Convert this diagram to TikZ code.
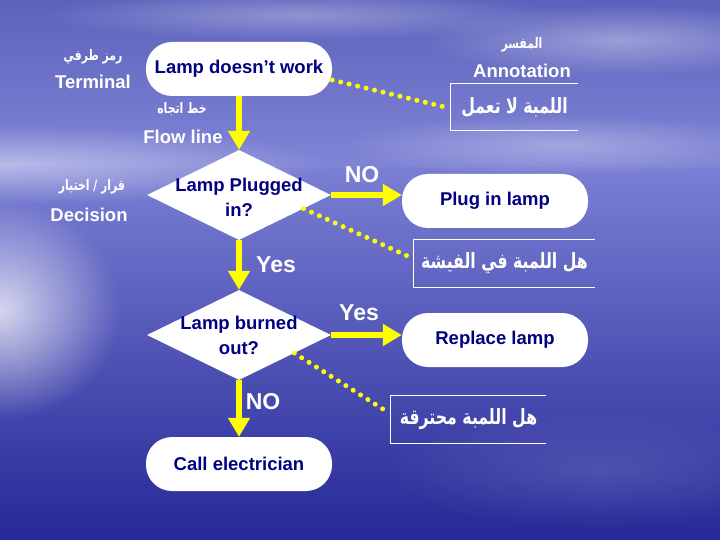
\documentclass[tikz,border=0pt]{standalone}
\usepackage{fontspec}
\setmainfont{Liberation Sans}
\newfontfamily\arabicfont[Script=Arabic,FakeStretch=0.75]{DejaVu Sans}
\TeXXeTstate=1
\usetikzlibrary{shapes.geometric,arrows.meta,calc,fadings}
\definecolor{navytext}{RGB}{0,0,128}
\definecolor{flowyellow}{RGB}{255,255,0}
\definecolor{skytop}{RGB}{92,98,188}
\definecolor{skylow}{RGB}{128,133,214}
\definecolor{seatop}{RGB}{122,127,212}
\definecolor{seabot}{RGB}{38,40,150}
\tikzfading[name=softglow, inner color=transparent!0, outer color=transparent!100]
\begin{document}
\begin{tikzpicture}[x=1pt,y=-1pt,
  term/.style={fill=white, rounded corners=26pt, minimum width=186pt, minimum height=54pt,
    inner sep=0pt, text=navytext, font=\fontsize{18.5}{22}\selectfont\bfseries},
  dia/.style={shape=diamond, fill=white, minimum width=184pt, minimum height=90pt,
    inner sep=0pt, text=navytext, font=\fontsize{18.5}{25}\selectfont\bfseries},
  flow/.style={draw=flowyellow, line width=6pt, -{Triangle[length=19pt,width=21pt]}},
  dots/.style={draw=flowyellow, line width=5pt, line cap=round, dash pattern=on 0pt off 8.7pt},
  lab/.style={text=white, inner sep=0pt, font=\fontsize{18.5}{22}\selectfont\bfseries},
  yn/.style={text=white, inner sep=0pt, font=\fontsize{23}{26}\selectfont\bfseries},
  arlab/.style={text=white, inner sep=0pt, font=\arabicfont\fontsize{14.5}{16}\selectfont\bfseries},
  annot/.style={text=white, inner sep=0pt, font=\arabicfont\fontsize{21}{24}\selectfont\bfseries},
  bracket/.style={draw=white, line width=1pt}
]
\useasboundingbox (0,0) rectangle (720,540);
% background
\shade[top color=skytop, bottom color=skylow] (0,0) rectangle (720,168);
\shade[top color=seatop, bottom color=seabot] (0,168) rectangle (720,540);
\fill[white, path fading=softglow, opacity=0.45] (0,165) ellipse [x radius=330pt, y radius=40pt];
\fill[white, path fading=softglow, opacity=0.35] (620,40) ellipse [x radius=200pt, y radius=35pt];
\fill[white, path fading=softglow, opacity=0.30] (300,15) ellipse [x radius=260pt, y radius=25pt];
\fill[white, path fading=softglow, opacity=0.30] (560,145) ellipse [x radius=220pt, y radius=30pt];
\fill[white, path fading=softglow, opacity=0.75] (0,310) ellipse [x radius=120pt, y radius=110pt];
\fill[white, path fading=softglow, opacity=0.12] (600,470) ellipse [x radius=220pt, y radius=60pt];

% nodes
\node[term] (t1) at (239,69) {Lamp doesn’t work};
\node[dia] (d1) at (239,195) {\makebox[0pt]{\raisebox{-8pt}[0pt][0pt]{\begin{tabular}{@{}c@{}}Lamp Plugged\\in?\end{tabular}}}};
\node[term] (plug) at (495,201) {Plug in lamp};
\node[dia] (d2) at (239,335) {\makebox[0pt]{\raisebox{-6pt}[0pt][0pt]{\begin{tabular}{@{}c@{}}Lamp burned\\out?\end{tabular}}}};
\node[term] (repl) at (495,340) {Replace lamp};
\node[term] (call) at (239,464) {Call electrician};

% annotations
\node[annot, minimum width=127pt, minimum height=46pt] (ann1) at (514.5,107) {\beginR اللمبة لا تعمل\endR};
\node[annot, minimum width=181pt, minimum height=47pt] (ann2) at (504.5,263.5) {\beginR هل اللمبة في الفيشة\endR};
\node[annot, minimum width=155pt, minimum height=47pt] (ann3) at (468.5,419.5) {\beginR هل اللمبة محترقة\endR};
\draw[bracket] (ann1.north east) -- (ann1.north west) -- (ann1.south west) -- (ann1.south east);
\draw[bracket] (ann2.north east) -- (ann2.north west) -- (ann2.south west) -- (ann2.south east);
\draw[bracket] (ann3.north east) -- (ann3.north west) -- (ann3.south west) -- (ann3.south east);

% legend labels
\node[arlab] (lterm-ar) at (93,57) {\beginR رمز طرفي\endR};
\node[lab] (lterm) at (93,82) {Terminal};
\node[arlab] (lflow-ar) at (182,109) {\beginR خط اتجاه\endR};
\node[lab] (lflow) at (183,137) {Flow line};
\node[arlab] (lann-ar) at (522,45) {\beginR المفسر\endR};
\node[lab] (lann) at (522,71) {Annotation};
\node[arlab] (ldec-ar) at (92,187) {\beginR قرار / اختيار\endR};
\node[lab] (ldec) at (89,215) {Decision};

% flow lines
\draw[flow] (t1.south) -- (d1.north);
\draw[flow] (d1.east) -- (d1.east -| plug.west);
\draw[flow] (d1.south) -- (d2.north);
\draw[flow] (d2.east) -- (d2.east -| repl.west);
\draw[flow] (d2.south) -- (call.north);

\node[yn] (no1) at (362,175) {NO};
\node[yn] (yes1) at (276,265) {Yes};
\node[yn] (yes2) at (359,313) {Yes};
\node[yn] (no2) at (263,402) {NO};

% annotation connectors
\draw[dots] ([yshift=-11pt]t1.east) -- ([xshift=-6pt]ann1.west);
\draw[dots] ($(d1.east)!0.3!(d1.south)$) -- ([xshift=-3pt,yshift=6pt]ann2.west);
\draw[dots] ($(d2.east)!0.4!(d2.south)$) -- ([xshift=-4pt,yshift=8pt]ann3.west);
\end{tikzpicture}
\end{document}
